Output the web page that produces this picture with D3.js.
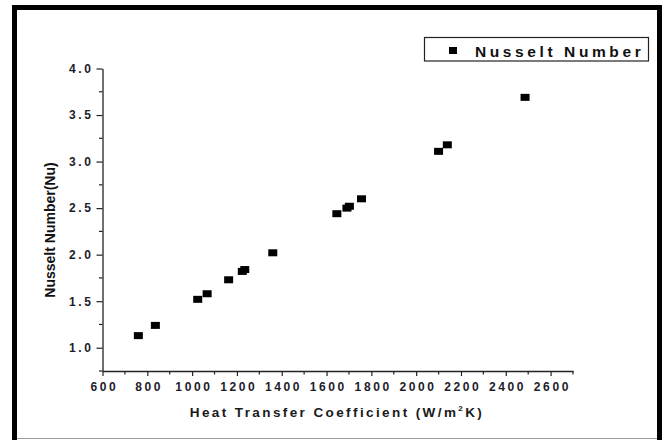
<!DOCTYPE html>
<html><head><meta charset="utf-8">
<script src="https://cdn.jsdelivr.net/npm/d3@7"></script>
<style>
html,body{margin:0;padding:0;background:#fff;}
svg{display:block;}
text{font-family:"Liberation Sans",Arial,sans-serif;}
</style></head>
<body>
<script>
const heatTransfer = [760, 836, 1025, 1067, 1163, 1224, 1235, 1360, 1646, 1691, 1702, 1756, 2100, 2139, 2486];
const nusselt      = [1.13, 1.24, 1.52, 1.58, 1.73, 1.82, 1.84, 2.02, 2.44, 2.50, 2.52, 2.60, 3.11, 3.18, 3.69];
const xTicks = [600, 800, 1000, 1200, 1400, 1600, 1800, 2000, 2200, 2400, 2600];
const yTicks = [1.0, 1.5, 2.0, 2.5, 3.0, 3.5, 4.0];
const seriesName = "Nusselt Number";

const W = 666, H = 440;
const svg = d3.select("body").append("svg").attr("width", W).attr("height", H);

const x = d3.scaleLinear().domain([600, 2700]).range([102.5, 573]);
const y = d3.scaleLinear().domain([0.75, 4.0]).range([371, 68.5]);

// outer frame
svg.append("line").attr("x1", 12).attr("x2", 662).attr("y1", 438.5).attr("y2", 438.5)
  .attr("stroke", "#9a9a9a").attr("stroke-width", 1.2);
svg.append("path").attr("d", "M14.5,440 L14.5,7.5 L659.5,7.5 L659.5,440")
  .attr("fill", "none").attr("stroke", "#000").attr("stroke-width", 5);

// minor ticks
const xMinor = d3.range(700, 2701, 200);
const yMinor = d3.range(0.75, 4.0, 0.5);
const g = svg.append("g");
g.selectAll(".xm").data(xMinor).join("line")
  .attr("x1", d => x(d)).attr("x2", d => x(d)).attr("y1", y(0.75)).attr("y2", y(0.75) + 3.5)
  .attr("stroke", "#222").attr("stroke-width", 1.2);
g.selectAll(".ym").data(yMinor).join("line")
  .attr("y1", d => y(d)).attr("y2", d => y(d)).attr("x1", x(600)).attr("x2", x(600) - 3.5)
  .attr("stroke", "#222").attr("stroke-width", 1.2);

// axes
const xAxis = d3.axisBottom(x).tickValues(xTicks).tickSize(5).tickSizeOuter(0).tickPadding(6).tickFormat(d3.format("d"));
const yAxis = d3.axisLeft(y).tickValues(yTicks).tickSize(6).tickSizeOuter(0).tickPadding(5).tickFormat(d3.format(".1f"));

const gx = svg.append("g").attr("transform", `translate(0,${y(0.75)})`).call(xAxis);
const gy = svg.append("g").attr("transform", `translate(${x(600)},0)`).call(yAxis);
[gx, gy].forEach(a => {
  a.select(".domain").attr("stroke", "#222").attr("stroke-width", 1.3);
  a.selectAll(".tick line").attr("stroke", "#222").attr("stroke-width", 1.2);
  a.selectAll(".tick text").attr("fill", "#1c1c2a").style("font-size", "12px")
    .style("font-weight", "bold").style("letter-spacing", "2.6px")
    .style("font-family", '"Liberation Sans", Arial, sans-serif');
});
gx.selectAll(".tick text").attr("dx", "1.3px");
gy.selectAll(".tick text").attr("dx", "2px");

// markers
svg.append("g").selectAll("rect").data(heatTransfer).join("rect")
  .attr("x", (d, i) => x(d) - 4.5).attr("y", (d, i) => y(nusselt[i]) - 3.5)
  .attr("width", 9).attr("height", 7).attr("fill", "#000");

// axis titles
const xt = svg.append("text").attr("x", 337).attr("y", 417).attr("text-anchor", "middle")
  .style("font-size", "13.5px").style("font-weight", "bold").style("letter-spacing", "2.4px")
  .attr("fill", "#1a1a1a");
xt.append("tspan").text("Heat Transfer Coefficient (W/m");
xt.append("tspan").attr("dy", -6).style("font-size", "8px").text("2");
xt.append("tspan").attr("dy", 6).text("K)");

svg.append("text").attr("transform", "translate(55,230) rotate(-90)").attr("text-anchor", "middle")
  .style("font-size", "14px").style("font-weight", "bold").attr("fill", "#111")
  .text("Nusselt Number(Nu)");

// legend
svg.append("rect").attr("x", 424.5).attr("y", 37.5).attr("width", 224).attr("height", 23.5)
  .attr("fill", "#fff").attr("stroke", "#222").attr("stroke-width", 1.2);
svg.append("rect").attr("x", 449).attr("y", 47).attr("width", 8).attr("height", 7).attr("fill", "#000");
svg.append("text").attr("x", 475).attr("y", 56.5).style("font-size", "15.5px").style("font-weight", "bold")
  .style("letter-spacing", "3.6px").attr("fill", "#111").text(seriesName);
</script>
</body></html>
